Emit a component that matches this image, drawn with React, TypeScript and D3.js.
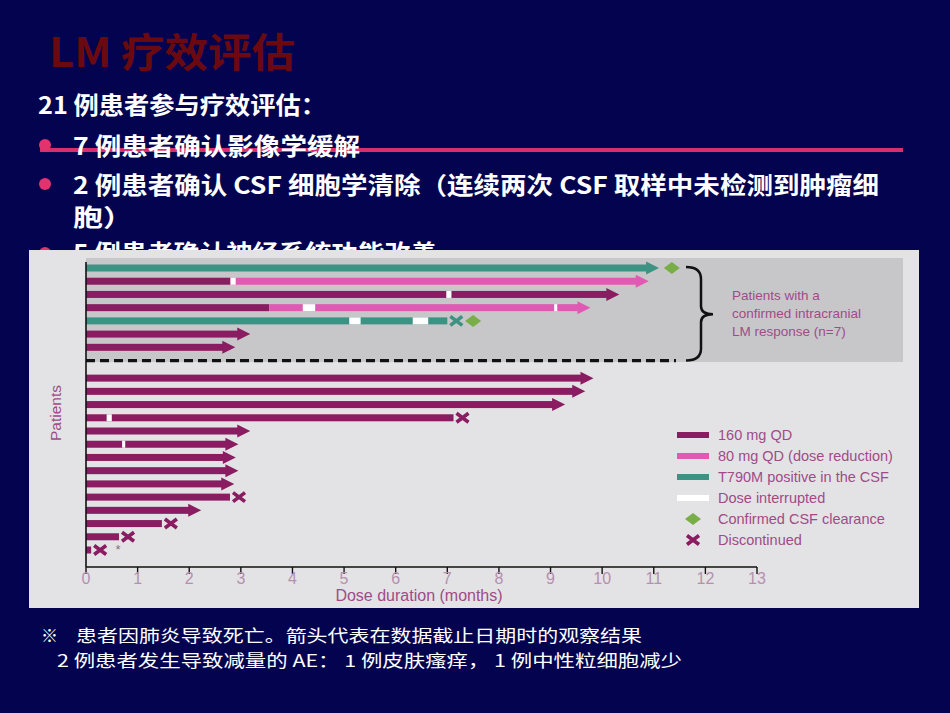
import React from 'react';
import * as d3 from 'd3';

const W = 950;
const H = 713;

// ---------- data ----------
const patientIds = d3.range(1, 22);
const responderCount = 7;
const baseDose = ['t790', '160', '160', '160', 't790', '160', '160', '160', '160', '160', '160', '160', '160', '160', '160', '160', '160', '160', '160', '160', '160'];
const reductionStart: (number | null)[] = [null, 2.8, null, 3.55, null, null, null, null, null, null, null, null, null, null, null, null, null, null, null, null, null];
const interruptions: [number, number][][] = [
  [], [[2.8, 2.9]], [[6.98, 7.08]], [[4.2, 4.44], [9.07, 9.13]], [[5.1, 5.32], [6.33, 6.63]], [], [],
  [], [], [], [[0.4, 0.5]], [], [[0.7, 0.76]], [], [], [], [], [], [], [], [],
];
const doseEnd = [10.87, 10.67, 10.1, 9.54, 7.0, 2.95, 2.66, 9.6, 9.44, 9.05, 7.12, 2.95, 2.72, 2.67, 2.72, 2.64, 2.79, 2.0, 1.47, 0.64, 0.1];
const endMarker = ['arrow', 'arrow', 'arrow', 'arrow', 'x', 'arrow', 'arrow', 'arrow', 'arrow', 'arrow', 'x', 'arrow', 'arrow', 'arrow', 'arrow', 'arrow', 'x', 'arrow', 'x', 'x', 'x'];
const csfClearance: (number | null)[] = [11.35, null, null, null, 7.5, null, null, null, null, null, null, null, null, null, null, null, null, null, null, null, null];
const deathNote: (number | null)[] = [null, null, null, null, null, null, null, null, null, null, null, null, null, null, null, null, null, null, null, null, 0.62];
const xTicks = d3.range(0, 14);
const legendLabels = ['160 mg QD', '80 mg QD (dose reduction)', 'T790M positive in the CSF', 'Dose interrupted', 'Confirmed CSF clearance', 'Discontinued'];
const legendKinds = ['160', '80', 't790', 'gap', 'diamond', 'x'];
const annotationLines = ['Patients with a', 'confirmed intracranial', 'LM response (n=7)'];

const colors: Record<string, string> = {
  '160': '#8a1c61',
  '80': '#e05ab3',
  t790: '#3d9383',
  gap: '#ffffff',
};
const mauve = '#a04b88';

const cjk = '"Noto Sans CJK SC", "Noto Sans", sans-serif';
const latin = '"Liberation Sans", Arial, sans-serif';

export default function App() {
  const x = d3.scaleLinear().domain([0, 13]).range([86, 757]);
  const rowIndex = (i: number) => (i < responderCount ? i : i + 1.33);
  const y = d3.scaleLinear().domain([0, 21.33]).range([268, 550]);
  const barH = 7;

  const rows = patientIds.map((id, i) => {
    const yc = y(rowIndex(i));
    const end = doseEnd[i];
    const rs = reductionStart[i];
    const segs: { a: number; b: number; c: string }[] = [];
    if (rs !== null) {
      segs.push({ a: 0, b: rs, c: baseDose[i] });
      segs.push({ a: rs, b: end, c: '80' });
    } else {
      segs.push({ a: 0, b: end, c: baseDose[i] });
    }
    const lastColor = colors[segs[segs.length - 1].c];
    return { id, i, yc, end, segs, lastColor };
  });

  const dashY = y(7);
  const midY = (y(0) + dashY) / 2;

  return (
    <svg width={W} height={H} style={{ position: 'absolute', left: 0, top: 0, display: 'block' }}>
      <rect x={0} y={0} width={W} height={H} fill="#030350" />

      {/* title */}
      <text x={49} y={67} fontFamily={cjk} fontWeight={700} fontSize={40} fill="#6a0a10" textLength={246} lengthAdjust="spacingAndGlyphs">LM 疗效评估</text>

      <text x={38} y={114} fontFamily={cjk} fontWeight={700} fontSize={24} fill="#ffffff" textLength={288} lengthAdjust="spacingAndGlyphs">21 例患者参与疗效评估：</text>

      <line x1={40} x2={903} y1={150} y2={150} stroke="#d62e6e" strokeWidth={4} />
      <circle cx={45} cy={145} r={6} fill="#e2336f" />
      <text x={73} y={155} fontFamily={cjk} fontWeight={700} fontSize={24} fill="#ffffff" textLength={287} lengthAdjust="spacingAndGlyphs">7 例患者确认影像学缓解</text>
      <circle cx={45} cy={184} r={6} fill="#e2336f" />
      <text x={73} y={194} fontFamily={cjk} fontWeight={700} fontSize={24} fill="#ffffff" textLength={806} lengthAdjust="spacingAndGlyphs">2 例患者确认 CSF 细胞学清除（连续两次 CSF 取样中未检测到肿瘤细</text>
      <text x={73} y={226} fontFamily={cjk} fontWeight={700} fontSize={24} fill="#ffffff" textLength={60} lengthAdjust="spacingAndGlyphs">胞）</text>
      <circle cx={45} cy={253} r={6} fill="#e2336f" />
      <text x={73} y={262} fontFamily={cjk} fontWeight={700} fontSize={24} fill="#ffffff" textLength={364} lengthAdjust="spacingAndGlyphs">5 例患者确认神经系统功能改善</text>

      {/* chart panel */}
      <rect x={29} y={250} width={890} height={358} fill="#e3e3e5" />
      <rect x={86} y={258} width={817} height={104} fill="#c7c7c9" />

      {/* bars */}
      {rows.map((r) => (
        <g key={r.id}>
          {r.segs.map((s, k) => (
            <rect key={k} x={x(s.a)} y={r.yc - barH / 2} width={x(s.b) - x(s.a)} height={barH} fill={colors[s.c]} />
          ))}
          {interruptions[r.i].map((g, k) => (
            <rect key={'g' + k} x={x(g[0])} y={r.yc - barH / 2} width={x(g[1]) - x(g[0])} height={barH} fill={colors.gap} />
          ))}
          {endMarker[r.i] === 'arrow' ? (
            <polygon
              points={`${x(r.end) - 1},${r.yc - 6.5} ${x(r.end) + 12},${r.yc} ${x(r.end) - 1},${r.yc + 6.5}`}
              fill={r.lastColor}
            />
          ) : (
            <path
              d={`M${x(r.end) + 3},${r.yc - 4.5} L${x(r.end) + 15},${r.yc + 4.5} M${x(r.end) + 3},${r.yc + 4.5} L${x(r.end) + 15},${r.yc - 4.5}`}
              stroke={r.lastColor}
              strokeWidth={3.6}
            />
          )}
          {csfClearance[r.i] !== null && (
            <polygon
              points={`${x(csfClearance[r.i] as number) - 8},${r.yc} ${x(csfClearance[r.i] as number)},${r.yc - 6} ${x(csfClearance[r.i] as number) + 8},${r.yc} ${x(csfClearance[r.i] as number)},${r.yc + 6}`}
              fill="#78ad48"
            />
          )}
          {deathNote[r.i] !== null && (
            <text x={x(deathNote[r.i] as number)} y={r.yc + 4} fontFamily={latin} fontSize={13} fill="#8a6f86" textAnchor="middle">*</text>
          )}
        </g>
      ))}

      {/* dashed separator */}
      <line x1={86} x2={676} y1={dashY} y2={dashY} stroke="#111" strokeWidth={3.2} strokeDasharray="9 5" />

      {/* curly brace */}
      <path
        d={`M686,${y(0) - 1} Q701,${y(0) - 1} 701,${y(0) + 11} L701,${midY - 8} Q701,${midY} 713,${midY} Q701,${midY} 701,${midY + 8} L701,${dashY - 12} Q701,${dashY} 686,${dashY}`}
        fill="none"
        stroke="#111"
        strokeWidth={2.5}
      />
      {annotationLines.map((t, k) => (
        <text key={t} x={732} y={300 + k * 18} fontFamily={latin} fontSize={13.5} fill={mauve}>{t}</text>
      ))}

      {/* axes */}
      <line x1={86} x2={86} y1={262} y2={567} stroke="#111" strokeWidth={1.6} />
      <line x1={86} x2={757} y1={567} y2={567} stroke="#111" strokeWidth={1.6} />
      {xTicks.map((t) => (
        <g key={t}>
          <line x1={x(t)} x2={x(t)} y1={567} y2={574} stroke="#111" strokeWidth={1.4} />
          <text x={x(t)} y={584} fontFamily={'"Liberation Sans Narrow", "Liberation Sans", sans-serif'} fontSize={16} fill="#b590ae" textAnchor="middle">{t}</text>
        </g>
      ))}
      <text x={419} y={601} fontFamily={latin} fontSize={16} fill={mauve} textAnchor="middle">Dose duration (months)</text>
      <text transform="translate(61,413) rotate(-90)" fontFamily={latin} fontSize={15.5} fill={mauve} textAnchor="middle">Patients</text>

      {/* legend */}
      {legendLabels.map((lab, k) => {
        const ly = 435 + k * 21;
        const kind = legendKinds[k];
        return (
          <g key={lab}>
            {kind in colors && (
              <rect x={677} y={ly - 3} width={32} height={6} fill={colors[kind]} />
            )}
            {kind === 'diamond' && (
              <polygon points={`${685},${ly} ${693},${ly - 6} ${701},${ly} ${693},${ly + 6}`} fill="#78ad48" />
            )}
            {kind === 'x' && (
              <path d={`M687,${ly - 4.5} L699,${ly + 4.5} M687,${ly + 4.5} L699,${ly - 4.5}`} stroke={colors['160']} strokeWidth={3.6} />
            )}
            <text x={718} y={ly + 5} fontFamily={latin} fontSize={14.5} fill={mauve}>{lab}</text>
          </g>
        );
      })}

      {/* footnotes */}
      <text x={41} y={642} fontFamily={cjk} fontSize={17} fill="#ffffff">※</text>
      <text x={76} y={642} fontFamily={cjk} fontSize={17} fill="#ffffff" textLength={566} lengthAdjust="spacingAndGlyphs">患者因肺炎导致死亡。箭头代表在数据截止日期时的观察结果</text>
      <text x={57} y={667} fontFamily={cjk} fontSize={17} fill="#ffffff" textLength={625} lengthAdjust="spacingAndGlyphs">2 例患者发生导致减量的 AE： 1 例皮肤瘙痒， 1 例中性粒细胞减少</text>
    </svg>
  );
}
